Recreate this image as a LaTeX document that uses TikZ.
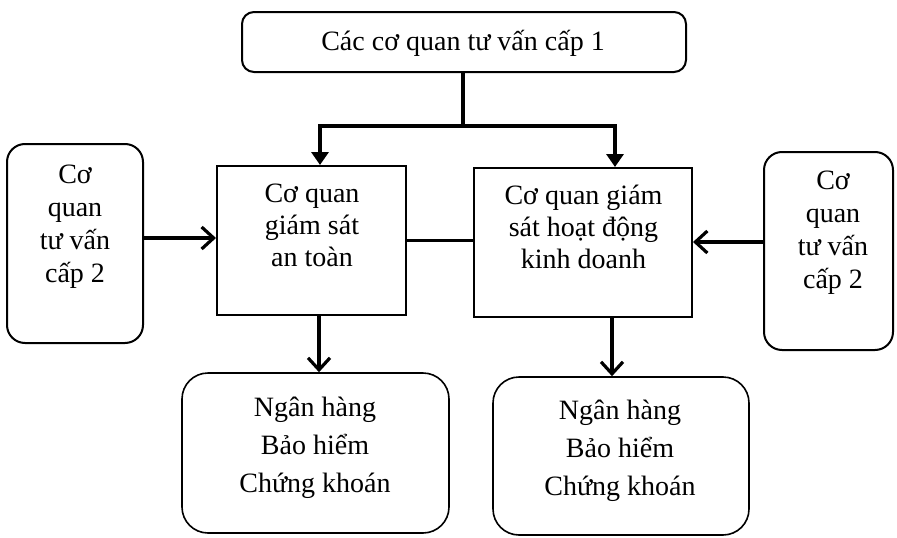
\documentclass[tikz,border=0pt]{standalone}
\usepackage{fontspec}
\setmainfont{Liberation Serif}
\usetikzlibrary{arrows.meta}
\begin{document}
\begin{tikzpicture}[x=1pt,y=-1pt,
  box/.style={draw, line width=2pt, inner sep=0pt},
  txt/.style={font=\fontsize{28}{32}\selectfont, align=center, anchor=base, inner sep=0pt},
  txtside/.style={font=\fontsize{28}{33}\selectfont, align=center, anchor=base, inner sep=0pt},
  txtbot/.style={font=\fontsize{28}{38}\selectfont, align=center, anchor=base, inner sep=0pt},
  conn/.style={line width=3.5pt},
  barb/.style={-{Straight Barb[length=12pt,width=22pt,line width=3.2pt]}},
  tri/.style={-{Triangle[length=13pt,width=17pt]}}]
\useasboundingbox[fill=white] (0,0) rectangle (897,538);

% boxes
\node[box, rounded corners=12pt, minimum width=444pt, minimum height=60pt] (top) at (464,42) {};
\node[txt] (toptxt) at (463,50) {Các cơ quan tư vấn cấp 1};

\node[box, minimum width=189pt, minimum height=149pt] (sa) at (311.5,240.5) {};
\node[txt] (satxt) at (312,266) {Cơ quan\\giám sát\\an toàn};

\node[box, minimum width=218pt, minimum height=149pt] (sh) at (583,242.5) {};
\node[txt] (shtxt) at (583.5,268) {Cơ quan giám\\sát hoạt động\\kinh doanh};

\node[box, rounded corners=18pt, minimum width=136pt, minimum height=199pt] (ls) at (75,243.5) {};
\node[txtside] (lstxt) at (75,282) {Cơ\\quan\\tư vấn\\cấp 2};

\node[box, rounded corners=18pt, minimum width=129pt, minimum height=198pt] (rs) at (828.5,251) {};
\node[txtside] (rstxt) at (833,288) {Cơ\\quan\\tư vấn\\cấp 2};

\node[box, line width=1.6pt, rounded corners=26pt, minimum width=267pt, minimum height=160pt] (bl) at (315.5,453) {};
\node[txtbot] (bltxt) at (315,492) {Ngân hàng\\Bảo hiểm\\Chứng khoán};

\node[box, line width=1.6pt, rounded corners=26pt, minimum width=256pt, minimum height=158pt] (br) at (621,456) {};
\node[txtbot] (brtxt) at (620,495) {Ngân hàng\\Bảo hiểm\\Chứng khoán};

% connectors
\coordinate (j) at (463,126);
\coordinate (aL) at (320,126);
\coordinate (aR) at (615,126);
\draw[conn] (top.south -| j) -- (j);
\draw[conn, tri] (j) -- (aL) -- (aL |- sa.north);
\draw[conn, tri] (j) -- (aR) -- (aR |- sh.north);

\draw[conn] (sa.east) -- (sa.east -| sh.west);

\coordinate (la) at (143,238);
\draw[conn, barb] (la -| ls.east) -- (la -| sa.west);
\coordinate (ra) at (764,242);
\draw[conn, barb] (ra -| rs.west) -- (ra -| sh.east);

\coordinate (dl) at (319,345);
\coordinate (dr) at (612,345);
\draw[conn, barb] (dl |- sa.south) -- (dl |- bl.north);
\draw[conn, barb] (dr |- sh.south) -- (dr |- br.north);
\end{tikzpicture}
\end{document}
